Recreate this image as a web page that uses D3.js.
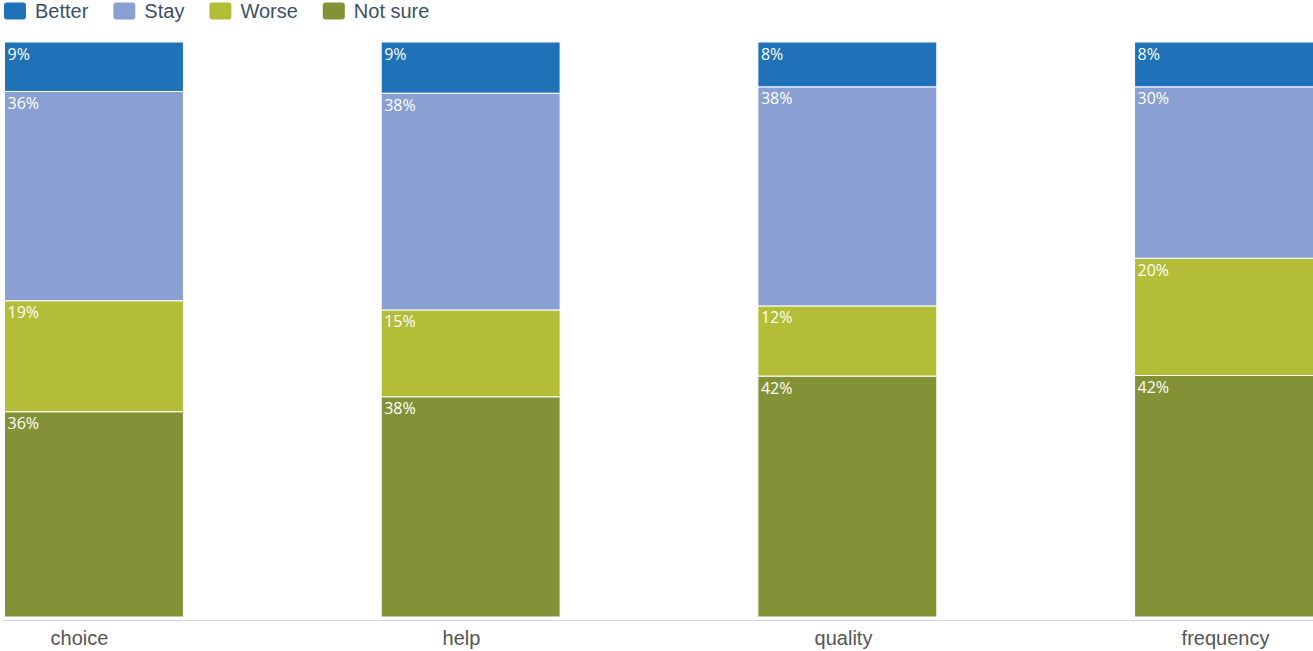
<!DOCTYPE html>
<html>
<head>
<meta charset="utf-8">
<script src="https://cdn.jsdelivr.net/npm/d3@7/dist/d3.min.js"></script>
<style>
  html, body { margin: 0; padding: 0; background: #fff; }
  svg { display: block; }
</style>
</head>
<body>
<svg id="chart" width="1313" height="651"></svg>
<script>
// ---- data ----
const categories = ["choice", "help", "quality", "frequency"];
const seriesNames = ["Better", "Stay", "Worse", "Not sure"];
const better  = [8.6, 8.9, 7.8, 7.8];
const stay    = [36.4, 37.7, 38.1, 29.8];
const worse   = [19.3, 15.1, 12.2, 20.4];
const notSure = [35.7, 38.3, 41.9, 42.0];
const colors  = ["#1f72b8", "#8aa0d2", "#b3bd37", "#849237"];

const seriesValues = [better, stay, worse, notSure];
const table = categories.map((c, i) => {
  const row = { category: c };
  seriesNames.forEach((s, j) => row[s] = seriesValues[j][i]);
  return row;
});

const svg = d3.select("#chart");
const W = 1313, H = 651;

const x = d3.scaleBand().domain(categories).range([4.5, 1313.5]).paddingInner(0.525).paddingOuter(0);
const xLabel = d3.scalePoint().domain(categories).range([79, 1225]);
const y = d3.scaleLinear().domain([0, 100]).range([617, 42]);
const color = d3.scaleOrdinal().domain(seriesNames).range(colors);

// stack, first series on top: stack in reverse order
const stack = d3.stack().keys(seriesNames.slice().reverse());
const stacked = stack(table);

const g = svg.append("g");
stacked.forEach(layer => {
  const key = layer.key;
  const lg = g.append("g").attr("class", "series");
  lg.selectAll("rect").data(layer).join("rect")
    .attr("x", d => x(d.data.category))
    .attr("width", x.bandwidth())
    .attr("y", d => y(d[1]))
    .attr("height", d => y(d[0]) - y(d[1]))
    .attr("fill", color(key))
    .attr("stroke", "#fff")
    .attr("stroke-width", 1);
  lg.selectAll("text").data(layer).join("text")
    .attr("x", d => x(d.data.category) + 3)
    .attr("y", d => y(d[1]) + 17.5)
    .attr("fill", "#fff")
    .attr("font-family", "'Open Sans', sans-serif")
    .attr("font-size", 16)
    .text(d => Math.round(d.data[key]) + "%");
});

// x axis
const axis = d3.axisBottom(xLabel).tickSize(0).tickPadding(0);
const ag = svg.append("g").attr("transform", "translate(0,620)").call(axis);
ag.select(".domain").remove();
ag.selectAll("text")
  .attr("dy", 0)
  .attr("y", 25)
  .attr("fill", "#555")
  .attr("font-family", "'Liberation Sans', Arial, sans-serif")
  .attr("font-size", 20);
svg.append("line")
  .attr("x1", 3).attr("x2", W)
  .attr("y1", 620.5).attr("y2", 620.5)
  .attr("stroke", "#ccd6eb").attr("stroke-width", 1);

// legend
const leg = svg.append("g").attr("class", "legend");
let lx = 4;
seriesNames.forEach(name => {
  const item = leg.append("g").attr("transform", `translate(${lx},0)`);
  item.append("rect")
    .attr("x", 0).attr("y", 2.5)
    .attr("width", 22).attr("height", 17)
    .attr("rx", 3).attr("ry", 3)
    .attr("fill", color(name));
  const t = item.append("text")
    .attr("x", 31).attr("y", 18)
    .attr("fill", "#3d4f66")
    .attr("font-family", "'Liberation Sans', Arial, sans-serif")
    .attr("font-size", 20)
    .text(name);
  const w = t.node().getComputedTextLength();
  lx += 31 + w + 25;
});
</script>
</body>
</html>
